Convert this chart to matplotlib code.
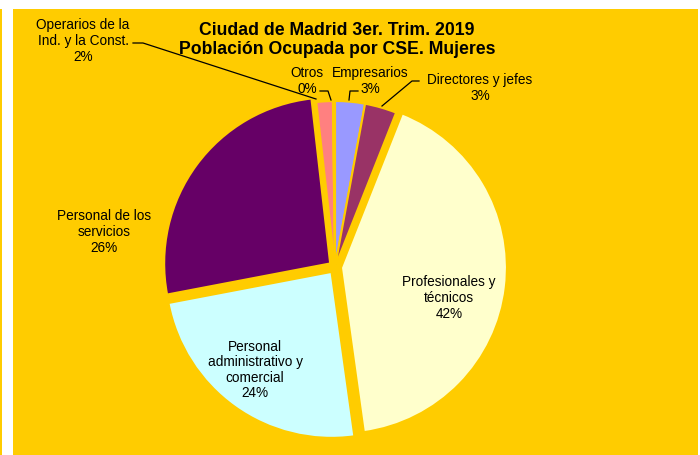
import matplotlib
matplotlib.use("Agg")
import matplotlib.pyplot as plt
from matplotlib.patches import Rectangle

plt.rcParams['font.family'] = ['Liberation Sans', 'DejaVu Sans']

# data, clockwise from 12 o'clock
categories = ['Empresarios', 'Directores y jefes', 'Profesionales y\ntécnicos',
              'Personal\nadministrativo y\ncomercial', 'Personal de los\nservicios',
              'Operarios de la\nInd. y la Const.', 'Otros']
values = [2.9, 3.1, 41.8, 24.2, 26.2, 1.6, 0.2]
colors = ['#9999FF', '#993366', '#FFFFCC', '#CCFFFF', '#660066', '#FF8080', '#0066CC']
# explode offset in pixels (pie uses data units, axes are in pixels here)
explode = [0, 0, 6, 6, 6, 0, 0]

title = 'Ciudad de Madrid 3er. Trim. 2019\nPoblación Ocupada por CSE. Mujeres'

W, H = 700, 456
BG = '#FFCC00'

# label centres in pixel coords (y from top)
label_pos = [(370, 81), (480, 88), (449, 298), (255, 370), (104, 232), (83, 41), (307, 81)]
# leader lines for the outside labels
leaders = {
    0: [(358, 92), (350, 92), (349, 101)],
    1: [(419, 82), (412, 82), (382, 107)],
    5: [(133, 44), (143, 44), (316, 100)],
    6: [(320, 92), (328, 92), (331, 101)],
}


def px(x, y):
    return x, H - y


fig = plt.figure(figsize=(W / 100, H / 100), dpi=100, facecolor='white')
fig.add_artist(Rectangle((13 / W, 0), 685 / W, 446 / H, transform=fig.transFigure,
                         facecolor=BG, edgecolor='none', zorder=0))
fig.add_artist(Rectangle((0, 0), 1.5 / W, 446 / H, transform=fig.transFigure,
                         facecolor=BG, edgecolor='none', zorder=0))

ax = fig.add_axes([0, 0, 1, 1])
ax.patch.set_visible(False)

ax.pie(values, colors=colors, explode=explode, startangle=90, counterclock=False,
       center=px(335, 268), radius=166,
       wedgeprops=dict(edgecolor=BG, linewidth=1.5))

ax.set_xlim(0, W)
ax.set_ylim(0, H)
ax.set_aspect('equal')
ax.axis('off')

for i, (name, v) in enumerate(zip(categories, values)):
    x, y = label_pos[i]
    ax.text(*px(x, y), f'{name}\n{round(v):.0f}%', ha='center', va='center',
            fontsize=9.8, color='black', linespacing=1.15, multialignment='center')

for i, pts in leaders.items():
    xs = [p[0] for p in pts]
    ys = [H - p[1] for p in pts]
    ax.plot(xs, ys, color='black', lw=0.9)

ax.text(*px(337, 40), title, ha='center', va='center', fontsize=12.7,
        fontweight='bold', linespacing=1.15)

fig.savefig('out.png', dpi=100, facecolor='white')
